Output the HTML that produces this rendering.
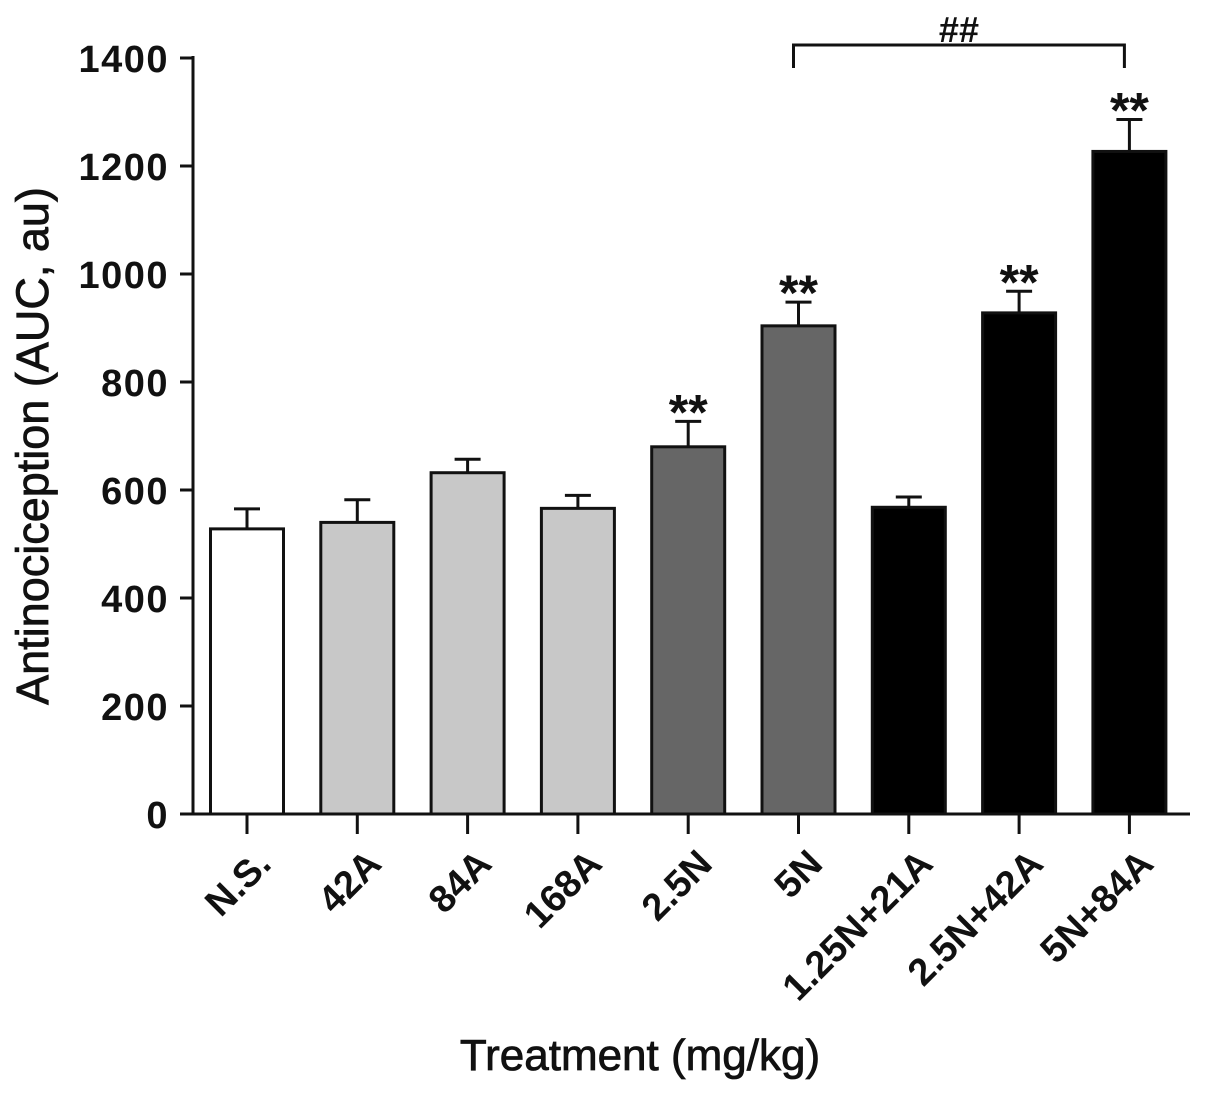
<!DOCTYPE html>
<html><head><meta charset="utf-8"><style>
body{margin:0;background:#fff}
svg text{font-family:"Liberation Sans",Arial,sans-serif;fill:#111}
</style></head><body>
<svg id="chart" width="1205" height="1091" viewBox="0 0 1205 1091" xmlns="http://www.w3.org/2000/svg">
<g id="plot"></g>
</svg>
<script>
const categories=["N.S.","42A","84A","168A","2.5N","5N","1.25N+21A","2.5N+42A","5N+84A"];
const means=[528,540,632,566,680,904,568,928,1227];
const errors=[37,42,25,24,47,44,19,40,59];
const colors=["#ffffff","#c8c8c8","#c8c8c8","#c8c8c8","#666666","#666666","#000000","#000000","#000000"];
const stars=["","","","","**","**","","**","**"];
const yTicks=[0,200,400,600,800,1000,1200,1400];
const NS="http://www.w3.org/2000/svg";
const g=document.getElementById('plot');
const x0=193,xEnd=1190,y0=814,yTop=58,step=110.3,firstC=247,bw=73;
function yS(v){return y0-(v/1400)*(y0-yTop);}
function xS(i){return firstC+i*step;}
function mk(t,a,p){const e=document.createElementNS(NS,t);for(const k in a)e.setAttribute(k,a[k]);(p||g).appendChild(e);return e;}
categories.forEach((c,i)=>{
  const cx=xS(i),top=yS(means[i]),et=yS(means[i]+errors[i]);
  const eb=mk('line',{x1:cx,x2:cx,y1:top,y2:et,stroke:'#111','stroke-width':3});
  
  
  const cap=mk('line',{x1:cx-13,x2:cx+13,y1:et,y2:et,stroke:'#111','stroke-width':3});
  
  
  const r=mk('rect',{x:cx-bw/2,y:top,width:bw,height:y0-top,fill:colors[i],stroke:'#111','stroke-width':3});
  
  
  const tk=mk('line',{x1:cx,x2:cx,y1:y0,y2:y0+20,stroke:'#111','stroke-width':3});
  
  
  const lx=cx+26,ly=866;
  const t=mk('text',{x:lx,y:ly,'text-anchor':'end','font-size':38,'font-weight':'bold',transform:`rotate(-45 ${lx} ${ly})`});
  t.textContent=c;
  
  
  if(stars[i]){
    const s=mk('text',{x:cx,y:et+8,'text-anchor':'middle','font-size':50,'font-weight':'bold'});
    s.textContent=stars[i];
    
    
  }
});
yTicks.forEach(v=>{
  const y=yS(v);
  const l=mk('line',{x1:x0-13,x2:x0,y1:y,y2:y,stroke:'#111','stroke-width':3});
  
  
  const t=mk('text',{x:x0-24,y:y+14,'text-anchor':'end','font-size':38,'font-weight':'bold','letter-spacing':1.5});
  t.textContent=v;
  
  
});
const ya=mk('line',{x1:x0,x2:x0,y1:yTop-2,y2:y0+1.5,stroke:'#111','stroke-width':3});


const xa=mk('line',{x1:x0,x2:xEnd,y1:y0,y2:y0,stroke:'#111','stroke-width':3});


const bx1=xS(5)-5,bx2=xS(8)-5;
const br=mk('path',{d:`M${bx1} 68 L${bx1} 45 L${bx2} 45 L${bx2} 68`,fill:'none',stroke:'#111','stroke-width':3});


const hh=mk('text',{x:(bx1+bx2)/2,y:42,'text-anchor':'middle','font-size':36,'font-weight':'bold'});
hh.textContent='##';


const yt=mk('text',{x:48,y:446,'text-anchor':'middle','font-size':45,stroke:'#111','stroke-width':0.8,transform:'rotate(-90 48 446)'});
yt.textContent='Antinociception (AUC, au)';


const xt=mk('text',{x:640,y:1070,'text-anchor':'middle','font-size':44,stroke:'#111','stroke-width':0.8});
xt.textContent='Treatment (mg/kg)';


</script>
</body></html>
